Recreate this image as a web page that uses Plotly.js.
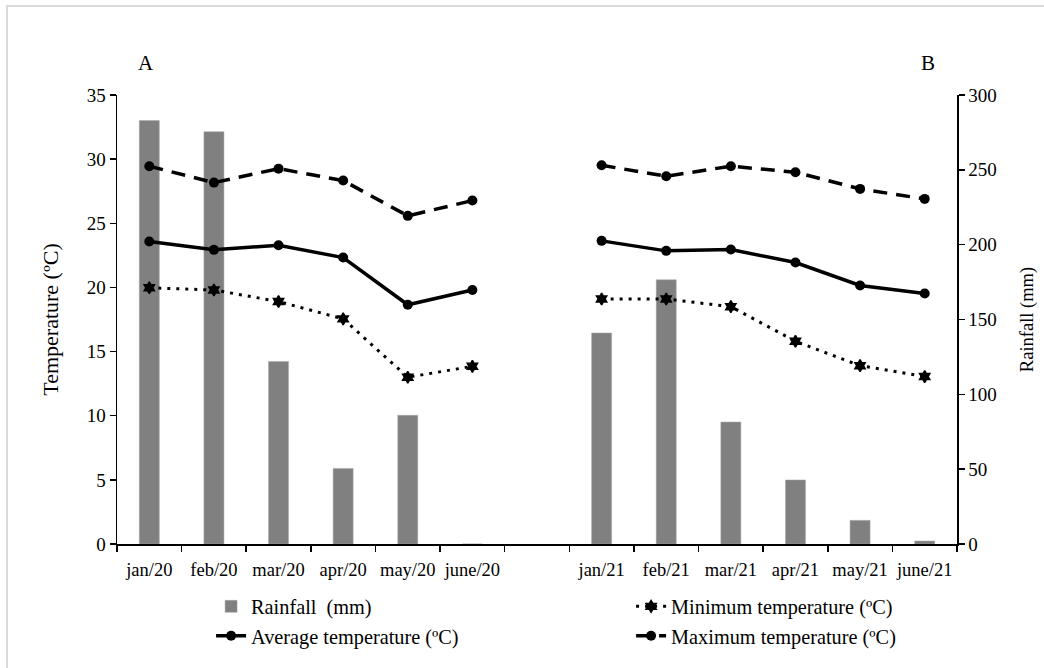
<!DOCTYPE html>
<html>
<head>
<meta charset="utf-8">
<script src="https://cdn.plot.ly/plotly-3.0.1.min.js"></script>
<style>
  html, body { margin: 0; padding: 0; background: #fff; }
  #wrap { position: relative; width: 1044px; height: 668px; }
  #chart { width: 1044px; height: 668px; }
  .bl { position: absolute; left: 6px; top: 5px; width: 2px; height: 663px; background: #d9d9d9; }
  .bt { position: absolute; left: 6px; top: 5px; width: 1038px; height: 2px; background: #d9d9d9; }
</style>
</head>
<body>
<div id="wrap">
  <div id="chart"></div>
  <div class="bl"></div>
  <div class="bt"></div>
</div>
<script>
// Categories (a blank spacer separates the two seasons)
const categories = ["jan/20", "feb/20", "mar/20", "apr/20", "may/20", "june/20", " ",
                    "jan/21", "feb/21", "mar/21", "apr/21", "may/21", "june/21"];

// Rainfall (mm) - right axis
const rainfall = [283, 275.5, 122, 50.5, 86, 0, null, 141, 176.5, 81.5, 42.8, 15.8, 2];

// Temperatures (ºC) - left axis
const minTemp = [19.97, 19.8, 18.9, 17.55, 13.0, 13.85, null, 19.1, 19.1, 18.5, 15.8, 13.9, 13.05];
const avgTemp = [23.58, 22.93, 23.29, 22.33, 18.65, 19.8, null, 23.63, 22.85, 22.95, 21.94, 20.15, 19.53];
const maxTemp = [29.45, 28.17, 29.26, 28.33, 25.58, 26.77, null, 29.52, 28.67, 29.45, 28.98, 27.68, 26.9];

const serif = "'Liberation Serif', 'Times New Roman', serif";

// Bars live on the (right-side) primary y axis so the temperature lines,
// on the overlaying left-side axis, are drawn above them.
const traces = [
  {
    type: "bar", name: "Rainfall  (mm)", x: categories, y: rainfall, yaxis: "y",
    legend: "legend",
    marker: { color: "#808080", line: { color: "#a6a6a6", width: 0.5 } },
    hoverinfo: "skip"
  },
  {
    type: "scatter", mode: "lines+markers", name: "Average temperature (ºC)",
    x: categories, y: avgTemp, yaxis: "y2", connectgaps: false, legend: "legend",
    line: { color: "#000", width: 3.5 },
    marker: { color: "#000", size: 10, symbol: "circle" },
    hoverinfo: "skip"
  },
  {
    type: "scatter", mode: "lines+markers", name: "Minimum temperature (ºC)",
    x: categories, y: minTemp, yaxis: "y2", connectgaps: false, legend: "legend2",
    line: { color: "#000", width: 3, dash: "3px,6px" },
    marker: { color: "#000", size: 9, symbol: "hexagram", line: { color: "#000", width: 1.5 } },
    hoverinfo: "skip"
  },
  {
    type: "scatter", mode: "lines+markers", name: "Maximum temperature (ºC)",
    x: categories, y: maxTemp, yaxis: "y2", connectgaps: false, legend: "legend2",
    line: { color: "#000", width: 3.5, dash: "14px,9px" },
    marker: { color: "#000", size: 10, symbol: "circle" },
    hoverinfo: "skip"
  }
];

const legendCommon = {
  orientation: "v",
  yanchor: "top",
  y: -0.095,
  xanchor: "left",
  traceorder: "normal",
  font: { family: serif, size: 20.3, color: "#000" },
  tracegroupgap: 0,
  bgcolor: "rgba(0,0,0,0)",
  borderwidth: 0
};

const axisCommon = {
  ticks: "outside", ticklen: 6, tickwidth: 1.5, tickcolor: "#000",
  showline: true, linecolor: "#000", linewidth: 1.5,
  showgrid: false, zeroline: false,
  tickfont: { family: serif, size: 19, color: "#000" },
  fixedrange: true
};

const layout = {
  width: 1044, height: 668,
  paper_bgcolor: "#fff", plot_bgcolor: "#fff",
  margin: { l: 117, r: 87, t: 95, b: 124, pad: 0, autoexpand: false },
  font: { family: serif, color: "#000", size: 18 },
  showlegend: true,
  bargap: 0.69,
  xaxis: {
    type: "category",
    categoryorder: "array", categoryarray: categories,
    range: [-0.5, 12.5],
    tickson: "boundaries",
    tickangle: 0,
    ticks: "outside", ticklen: 6, tickwidth: 1.5, tickcolor: "#000",
    ticklabelstandoff: 8,
    showline: true, linecolor: "#000", linewidth: 1.5,
    showgrid: false, zeroline: false,
    tickfont: { family: serif, size: 18.5, color: "#000" },
    fixedrange: true
  },
  yaxis: Object.assign({}, axisCommon, {
    range: [0, 300], dtick: 50, tick0: 0,
    side: "right",
    title: { text: "Rainfall (mm)", font: { family: serif, size: 18.5, color: "#000" }, standoff: 24 }
  }),
  yaxis2: Object.assign({}, axisCommon, {
    range: [0, 35], dtick: 5, tick0: 0,
    overlaying: "y", side: "left",
    title: { text: "Temperature (ºC)", font: { family: serif, size: 22, color: "#000" }, standoff: 22 }
  }),
  legend: Object.assign({}, legendCommon, { x: 0.112 }),
  legend2: Object.assign({}, legendCommon, { x: 0.612 }),
  annotations: [
    { text: "A", xref: "paper", yref: "paper", x: 0.035, y: 1.072, showarrow: false,
      font: { family: serif, size: 21, color: "#000" }, xanchor: "center", yanchor: "middle" },
    { text: "B", xref: "paper", yref: "paper", x: 0.966, y: 1.072, showarrow: false,
      font: { family: serif, size: 21, color: "#000" }, xanchor: "center", yanchor: "middle" }
  ]
};

Plotly.newPlot("chart", traces, layout, { displayModeBar: false, staticPlot: true });
</script>
</body>
</html>
